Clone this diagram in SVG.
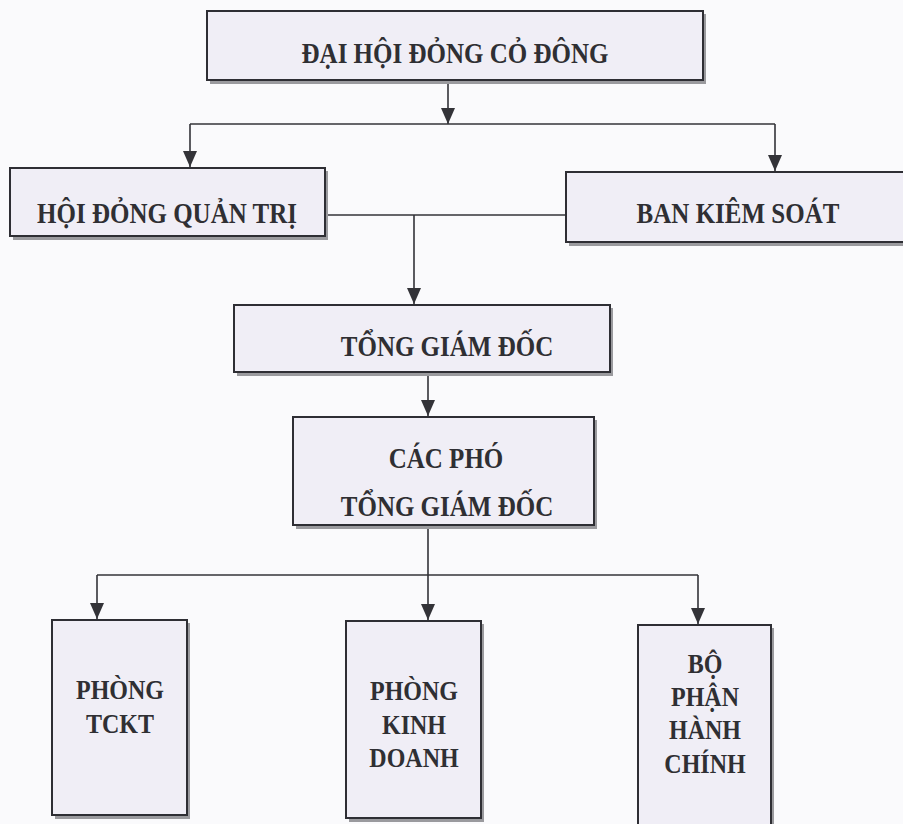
<svg xmlns="http://www.w3.org/2000/svg" width="903" height="824" viewBox="0 0 903 824">
<defs>
<style>
.bg{fill:#fafafc}
.sh{fill:#9a9a9e}
.box{fill:#f0eef6;stroke:#2e2e34;stroke-width:2}
.t{font-family:"Liberation Serif","Times New Roman",serif;font-weight:bold;font-size:25px;fill:#2f2f33;text-anchor:middle}
.s{font-size:24px}
.c{fill:none;stroke:#333338;stroke-width:1.6}
</style>
<marker id="ah" markerUnits="userSpaceOnUse" markerWidth="16" markerHeight="14" refX="16" refY="7" orient="auto" viewBox="0 0 16 14">
<path d="M0,0 L16,7 L0,14 Z" fill="#333338"/>
</marker>
</defs>
<rect class="bg" x="0" y="0" width="903" height="824"/>

<g id="connectors">
<path class="c" d="M448,80 V124" marker-end="url(#ah)"/>
<path class="c" d="M190,124 H775"/>
<path class="c" d="M190,124 V167" marker-end="url(#ah)"/>
<path class="c" d="M775,124 V171" marker-end="url(#ah)"/>
<path class="c" d="M325,215 H566"/>
<path class="c" d="M414,215 V304" marker-end="url(#ah)"/>
<path class="c" d="M428,372 V416" marker-end="url(#ah)"/>
<path class="c" d="M428,525 V575"/>
<path class="c" d="M97,575 H698"/>
<path class="c" d="M97,575 V619" marker-end="url(#ah)"/>
<path class="c" d="M428,575 V620" marker-end="url(#ah)"/>
<path class="c" d="M698,575 V624" marker-end="url(#ah)"/>
</g>

<g id="dhdcd">
<rect class="sh" x="210" y="14" width="496" height="70"/>
<rect class="box" x="207" y="11" width="496" height="69"/>
<text class="t" transform="translate(455 63) scale(1 1.15)">ĐẠI HỘI ĐỎNG CỎ ĐÔNG</text>
</g>

<g id="hdqt">
<rect class="sh" x="13" y="171" width="315" height="69"/>
<rect class="box" x="10" y="168" width="315" height="68"/>
<text class="t" transform="translate(167 223) scale(1 1.15)">HỘI ĐỎNG QUẢN TRỊ</text>
</g>

<g id="bks">
<rect class="sh" x="569" y="175" width="340" height="71"/>
<rect class="box" x="566" y="172" width="340" height="70"/>
<text class="t" transform="translate(738 223) scale(1 1.15)">BAN KIÊM SOÁT</text>
</g>

<g id="tgd">
<rect class="sh" x="237" y="308" width="376" height="68"/>
<rect class="box" x="234" y="305" width="376" height="67"/>
<text class="t" transform="translate(447 356) scale(1 1.15)">TỔNG GIÁM ĐỐC</text>
</g>

<g id="cptgd">
<rect class="sh" x="296" y="420" width="301" height="109"/>
<rect class="box" x="293" y="417" width="301" height="108"/>
<text class="t" transform="translate(446 468) scale(1 1.15)">CÁC PHÓ</text>
<text class="t" transform="translate(447 516) scale(1 1.15)">TỔNG GIÁM ĐỐC</text>
</g>

<g id="ptckt">
<rect class="sh" x="55" y="623" width="135" height="196"/>
<rect class="box" x="52" y="620" width="135" height="195"/>
<text class="t s" transform="translate(120 699) scale(1 1.13)">PHÒNG</text>
<text class="t s" transform="translate(120 733) scale(1 1.13)">TCKT</text>
</g>

<g id="pkd">
<rect class="sh" x="349" y="624" width="135" height="198"/>
<rect class="box" x="346" y="621" width="135" height="197"/>
<text class="t s" transform="translate(414 700) scale(1 1.13)">PHÒNG</text>
<text class="t s" transform="translate(414 734) scale(1 1.13)">KINH</text>
<text class="t s" transform="translate(414 767) scale(1 1.13)">DOANH</text>
</g>

<g id="bphc">
<rect class="sh" x="641" y="628" width="133" height="200"/>
<rect class="box" x="638" y="625" width="133" height="205"/>
<text class="t s" transform="translate(705 673) scale(1 1.13)">BỘ</text>
<text class="t s" transform="translate(705 706) scale(1 1.13)">PHẬN</text>
<text class="t s" transform="translate(705 739) scale(1 1.13)">HÀNH</text>
<text class="t s" transform="translate(705 773) scale(1 1.13)">CHÍNH</text>
</g>
</svg>
